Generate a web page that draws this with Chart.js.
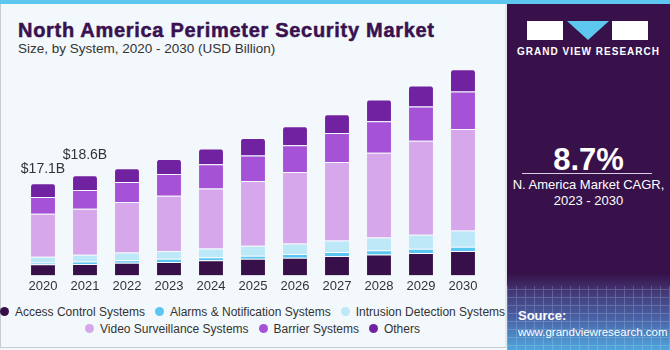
<!DOCTYPE html>
<html>
<head>
<meta charset="utf-8">
<script src="https://cdn.jsdelivr.net/npm/chart.js@4"></script>
<style>
  body { margin: 0; width: 670px; height: 350px; overflow: hidden; font-family: "Liberation Sans", Arial, sans-serif; }
  #wrap { position: relative; width: 670px; height: 350px; background: #f3f8fc; }
  #stripe { position: absolute; left: 0; top: 0; width: 670px; height: 4px; background: #5dc7f0; }
  #leftBorder { position: absolute; left: 0; top: 4px; width: 1px; height: 344px; background: #c9cdd2; }
  #rightBorder { position: absolute; left: 505px; top: 4px; width: 2px; height: 344px; background: #e4e8ec; }
  #bottomBorder { position: absolute; left: 0; top: 347px; width: 506px; height: 1px; background: #c9cdd2; }
  #title { position: absolute; left: 18px; top: 19px; font-size: 20px; font-weight: bold; color: #3a1150; white-space: nowrap;
    letter-spacing: 0.7px; -webkit-text-stroke: 0.5px #3a1150; }
  #subtitle { position: absolute; left: 18px; top: 41px; font-size: 13.5px; color: #333; white-space: nowrap; }
  #chartBox { position: absolute; left: 0; top: 56px; width: 505px; height: 244px; }
  #legend { position: absolute; left: 0; top: 303px; width: 505px; font-size: 12px; color: #333; }
  .row { display: flex; justify-content: center; height: 17px; align-items: center; }
  .item { display: flex; align-items: center; margin: 0 5px; white-space: nowrap; }
  .dot { width: 9px; height: 9px; border-radius: 50%; margin-right: 6px; }
  #panel { position: absolute; left: 507px; top: 4px; width: 163px; height: 346px; background: #38114a; overflow: hidden; }
  #panelBottom { position: absolute; left: 0; top: 270px; width: 163px; height: 76px;
    background: linear-gradient(#38114a, #433a78 25%, #4a64a8 60%, #4fa6dc); }
  #grid { position: absolute; left: 0; top: 12px; width: 100%; height: 100%; opacity: 0.22;
    background-image: repeating-linear-gradient(90deg, #cfe6ff 0 1px, transparent 1px 9px),
                      repeating-linear-gradient(0deg, #cfe6ff 0 1px, transparent 1px 8px); }
  .blk { position: absolute; background: #fff; }
  #tri { position: absolute; left: 60px; top: 17px; width: 0; height: 0;
    border-left: 21px solid transparent; border-right: 21px solid transparent; border-top: 19px solid #5dc7f0; }
  #brand { position: absolute; left: 0; width: 163px; top: 42px; text-align: center; color: #fff; font-size: 10px; font-weight: bold; letter-spacing: 1px; }
  #cagr { position: absolute; left: 0; width: 163px; top: 138px; text-align: center; color: #fff; font-size: 31px; font-weight: bold; }
  #line { position: absolute; left: 15px; top: 169px; width: 130px; height: 1px; background: #d9cde3; }
  #cagrText { position: absolute; left: 0; width: 163px; top: 173px; text-align: center; color: #fff; font-size: 13px; line-height: 16px; }
  #source { position: absolute; left: 11px; top: 304px; color: #fff; font-size: 11.5px; line-height: 16px; }
  #source b { font-size: 13px; }
</style>
</head>
<body>
<div id="wrap">
  <div id="stripe"></div>
  <div id="leftBorder"></div>
  <div id="rightBorder"></div>
  <div id="bottomBorder"></div>
  <div id="title">North America Perimeter Security Market</div>
  <div id="subtitle">Size, by System, 2020 - 2030 (USD Billion)</div>
  <div id="chartBox"><canvas id="marketChart" width="505" height="244"></canvas></div>
  <div id="legend"></div>
  <div id="panel">
    <div id="panelBottom"><div id="grid"></div></div>
    <div class="blk" style="left:20px; top:17px; width:36px; height:19px;"></div>
    <div id="tri"></div>
    <div class="blk" style="left:105px; top:17px; width:36px; height:19px;"></div>
    <div id="brand">GRAND VIEW RESEARCH</div>
    <div id="cagr">8.7%</div>
    <div id="line"></div>
    <div id="cagrText">N. America Market CAGR,<br>2023 - 2030</div>
    <div id="source"><b>Source:</b><br>www.grandviewresearch.com</div>
  </div>
</div>
<script>
  // --------------------
  // Data (USD Billion)
  // --------------------
  const years = ["2020", "2021", "2022", "2023", "2024", "2025", "2026", "2027", "2028", "2029", "2030"];
  const accessControl = [2.07, 2.14, 2.33, 2.51, 2.80, 3.11, 3.30, 3.61, 3.90, 4.14, 4.51];
  const alarms = [0.31, 0.42, 0.49, 0.60, 0.55, 0.55, 0.68, 0.73, 0.79, 0.81, 0.81];
  const intrusion = [1.10, 1.28, 1.41, 1.41, 1.65, 1.83, 1.96, 2.14, 2.33, 2.62, 3.04];
  const videoSurveillance = [7.95, 8.53, 9.40, 10.26, 11.12, 12.03, 13.24, 14.60, 15.75, 17.45, 18.81];
  const barrier = [3.11, 3.48, 3.72, 4.03, 4.52, 4.76, 5.00, 5.37, 5.86, 6.36, 6.96];
  const others = [2.56, 2.75, 2.56, 2.80, 2.93, 3.24, 3.53, 3.48, 4.03, 3.90, 4.16];
  const totalLabels = ["$17.1B", "$18.6B"];

  const series = [
    { label: "Access Control Systems", data: accessControl, color: "#371049" },
    { label: "Alarms & Notification Systems", data: alarms, color: "#5bc6f2" },
    { label: "Intrusion Detection Systems", data: intrusion, color: "#bde8f8" },
    { label: "Video Surveillance Systems", data: videoSurveillance, color: "#d6a8eb" },
    { label: "Barrier Systems", data: barrier, color: "#a652d6" },
    { label: "Others", data: others, color: "#7122a0" },
  ];

  // --------------------
  // Total labels above the first bars
  // --------------------
  const totalsPlugin = {
    id: "totals",
    afterDatasetsDraw(chart) {
      const ctx = chart.ctx;
      const topMeta = chart.getDatasetMeta(chart.data.datasets.length - 1);
      const lift = [14, 20];
      ctx.save();
      ctx.font = "14px 'Liberation Sans', Arial, sans-serif";
      ctx.fillStyle = "#333";
      ctx.textAlign = "center";
      ctx.textBaseline = "middle";
      totalLabels.forEach((t, i) => {
        const bar = topMeta.data[i];
        ctx.fillText(t, bar.x, bar.y - lift[i]);
      });
      ctx.restore();
    },
  };

  const ctx = document.getElementById("marketChart").getContext("2d");

  const marketChart = new Chart(ctx, {
    type: "bar",
    data: {
      labels: years,
      datasets: series.map((s, i) => ({
        label: s.label,
        data: s.data,
        backgroundColor: s.color,
        borderColor: "rgba(255,255,255,0.35)",
        borderWidth: { top: 1 },
        borderSkipped: "bottom",
        borderRadius: i === series.length - 1 ? { topLeft: 3, topRight: 3 } : 0,
        categoryPercentage: 1,
        barPercentage: 0.57,
      })),
    },
    options: {
      responsive: false,
      animation: false,
      layout: { padding: { left: 22, right: 21, top: 4, bottom: 3 } },
      plugins: {
        legend: { display: false },
        tooltip: { enabled: false },
      },
      scales: {
        x: {
          stacked: true,
          grid: { display: false, drawTicks: false },
          border: { display: false },
          ticks: { color: "#333", font: { size: 13, family: "'Liberation Sans', Arial, sans-serif" }, padding: 3 },
        },
        y: {
          stacked: true,
          display: false,
          min: 0,
          max: 40,
        },
      },
    },
    plugins: [totalsPlugin],
  });

  // --------------------
  // Legend (two centered rows, built from the chart's own legend items)
  // --------------------
  const legendEl = document.getElementById("legend");
  const items = Chart.defaults.plugins.legend.labels.generateLabels(marketChart);
  [items.slice(0, 3), items.slice(3)].forEach((rowItems) => {
    const row = document.createElement("div");
    row.className = "row";
    rowItems.forEach((it) => {
      const el = document.createElement("div");
      el.className = "item";
      el.innerHTML = `<span class="dot" style="background:${it.fillStyle}"></span>${it.text}`;
      row.appendChild(el);
    });
    legendEl.appendChild(row);
  });
</script>
</body>
</html>
